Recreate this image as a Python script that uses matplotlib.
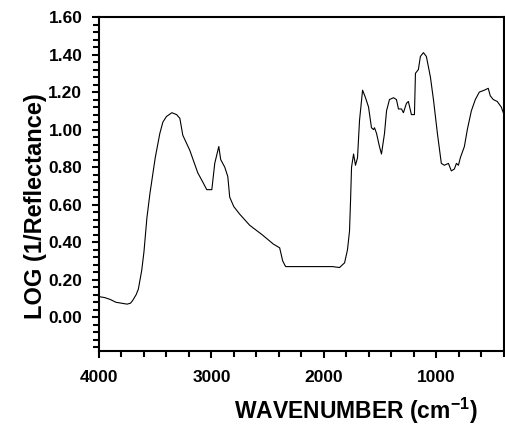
import numpy as np
import matplotlib
matplotlib.use('Agg')
import matplotlib.pyplot as plt
from matplotlib.ticker import MultipleLocator, FormatStrFormatter

# spectrum (wavenumber in cm-1, log(1/R))
wavenumber = [4000, 3950, 3900, 3850, 3800, 3750, 3720, 3700, 3670, 3650, 3620, 3600,
              3574, 3547, 3500, 3459, 3432, 3400, 3352, 3310, 3281, 3255, 3193, 3122,
              3077, 3042, 2997, 2971, 2935, 2918, 2882, 2855, 2838, 2802, 2750, 2705,
              2660, 2550, 2450, 2394, 2367, 2341, 2300, 2216, 2100, 2000, 1924, 1862,
              1817, 1791, 1773, 1764, 1755, 1737, 1720, 1702, 1684, 1657, 1631, 1604,
              1578, 1560, 1551, 1533, 1507, 1489, 1462, 1444, 1418, 1382, 1356, 1338,
              1311, 1294, 1267, 1250, 1223, 1196, 1187, 1161, 1143, 1116, 1090, 1054,
              1027, 992, 957, 930, 894, 868, 841, 823, 805, 788, 752, 726, 690, 655,
              619, 575, 540, 522, 495, 460, 424, 406]
absorbance = [0.11, 0.105, 0.095, 0.08, 0.075, 0.07, 0.075, 0.09, 0.12, 0.15, 0.25, 0.35,
              0.53, 0.66, 0.85, 0.98, 1.04, 1.07, 1.09, 1.08, 1.06, 0.97, 0.89, 0.77,
              0.72, 0.68, 0.68, 0.82, 0.91, 0.84, 0.80, 0.75, 0.64, 0.59, 0.55, 0.52,
              0.49, 0.44, 0.39, 0.37, 0.30, 0.27, 0.27, 0.27, 0.27, 0.27, 0.27, 0.265,
              0.29, 0.36, 0.46, 0.62, 0.80, 0.87, 0.81, 0.85, 1.05, 1.21, 1.17, 1.12,
              1.01, 1.00, 1.01, 0.98, 0.91, 0.87, 0.98, 1.10, 1.16, 1.17, 1.16, 1.11,
              1.11, 1.09, 1.14, 1.15, 1.08, 1.08, 1.30, 1.32, 1.39, 1.41, 1.39, 1.28,
              1.16, 0.98, 0.82, 0.81, 0.82, 0.78, 0.79, 0.82, 0.81, 0.85, 0.91, 1.00,
              1.10, 1.16, 1.20, 1.21, 1.22, 1.18, 1.16, 1.15, 1.12, 1.09]

plt.rcParams['font.family'] = ['Liberation Sans', 'DejaVu Sans']
plt.rcParams['font.weight'] = 'bold'
plt.rcParams['mathtext.fontset'] = 'custom'
plt.rcParams['mathtext.bf'] = 'Liberation Sans:bold'
plt.rcParams['mathtext.rm'] = 'Liberation Sans:bold'
plt.rcParams['mathtext.default'] = 'bf'

fig = plt.figure(figsize=(5.05, 4.25), dpi=100)
ax = fig.add_axes([0.196, 0.174, 0.802, 0.786])
ax.plot(wavenumber, absorbance, color='black', linewidth=0.8)

ax.set_xlim(4000, 400)
ax.set_ylim(-0.18, 1.60)
ax.xaxis.set_major_locator(MultipleLocator(1000))
ax.xaxis.set_minor_locator(MultipleLocator(200))
ax.yaxis.set_major_locator(MultipleLocator(0.2))
ax.yaxis.set_minor_locator(MultipleLocator(0.04))
ax.yaxis.set_major_formatter(FormatStrFormatter('%.2f'))
ax.tick_params(which='both', direction='out', top=False, right=False, width=1.5)
ax.tick_params(which='major', length=5, labelsize=12.5)
ax.tick_params(which='minor', length=4)
ax.tick_params(axis='x', which='major', pad=9)
ax.tick_params(axis='y', which='major', pad=7)
for lab in ax.get_xticklabels() + ax.get_yticklabels():
    lab.set_fontweight('bold')
for s in ax.spines.values():
    s.set_linewidth(1.5)

ax.set_xlabel('WAVENUMBER (cm$^{-1}$)', fontsize=16.5, fontweight='bold')
ax.set_ylabel('LOG (1/Reflectance)', fontsize=17, fontweight='bold')
ax.xaxis.set_label_coords(0.635, -0.133)
ax.yaxis.set_label_coords(-0.128, 0.434)

fig.savefig('out.png', dpi=100)
